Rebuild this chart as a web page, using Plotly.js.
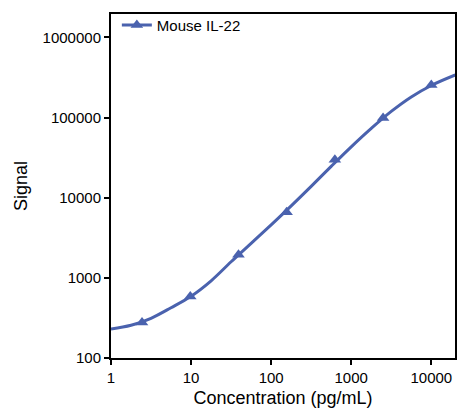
<!DOCTYPE html>
<html>
<head>
<meta charset="utf-8">
<script src="https://cdn.plot.ly/plotly-3.0.1.min.js"></script>
<style>html,body{margin:0;padding:0;background:#fff}#chart{width:457px;height:408px}</style>
</head>
<body>
<div id="chart"></div>
<script>
const seriesName = "Mouse IL-22";
const standardConc = [2.44, 9.77, 39.1, 156, 625, 2500, 10000];
const standardSignal = [278, 587, 1940, 6600, 29700, 99000, 256000];
const curveConc = [1, 1.78, 3.16, 5.62, 10, 17.8, 31.6, 56.2, 100, 178, 316, 562, 1000, 1780, 3160, 5620, 10000, 19950];
const curveSignal = [230, 256, 313, 424, 590, 920, 1588, 2700, 4590, 7925, 13870, 24600, 43150, 73300, 119400, 181100, 251800, 340400];
const xTickVals = [1, 10, 100, 1000, 10000];
const xTickText = ["1", "10", "100", "1000", "10000"];
const yTickVals = [100, 1000, 10000, 100000, 1000000];
const yTickText = ["100", "1000", "10000", "100000", "1000000"];

const color = "#4a62ae";
const font = "Liberation Sans, Arial, sans-serif";

const traces = [
  {x: curveConc, y: curveSignal, mode: "lines", line: {color: color, width: 3, shape: "spline", smoothing: 1}, showlegend: false, hoverinfo: "skip"},
  {x: standardConc, y: standardSignal, mode: "markers", marker: {symbol: "triangle-up", size: 11, color: color}, showlegend: false},
  {x: [null], y: [null], mode: "lines+markers", name: seriesName, line: {color: color, width: 3}, marker: {symbol: "triangle-up", size: 11, color: color}}
];

const layout = {
  width: 457, height: 408,
  margin: {l: 111, r: 2, t: 14, b: 50},
  paper_bgcolor: "#fff", plot_bgcolor: "#fff",
  font: {family: font, color: "#000", size: 15},
  showlegend: true,
  legend: {x: 0.017, y: 1.015, xanchor: "left", yanchor: "top", bgcolor: "rgba(0,0,0,0)", font: {family: font, size: 15, color: "#000"}, itemwidth: 30, tracegroupgap: 0},
  xaxis: {
    type: "log", range: [0, 4.296],
    tickvals: xTickVals, ticktext: xTickText,
    showgrid: false, zeroline: false,
    showline: true, linecolor: "#000", linewidth: 2, mirror: true,
    ticks: "outside", ticklen: 5, tickwidth: 2, tickcolor: "#000",
    tickfont: {family: font, size: 15, color: "#000"},
    title: {text: "Concentration (pg/mL)", font: {family: font, size: 18, color: "#000"}, standoff: 9}
  },
  yaxis: {
    type: "log", range: [2, 6.293],
    tickvals: yTickVals, ticktext: yTickText,
    showgrid: false, zeroline: false,
    showline: true, linecolor: "#000", linewidth: 2, mirror: true,
    ticks: "outside", ticklen: 5, tickwidth: 2, tickcolor: "#000",
    tickfont: {family: font, size: 15, color: "#000"},
    title: {text: "Signal", font: {family: font, size: 18, color: "#000"}, standoff: 10}
  }
};

Plotly.newPlot("chart", traces, layout, {displayModeBar: false, staticPlot: true});
</script>
</body>
</html>
